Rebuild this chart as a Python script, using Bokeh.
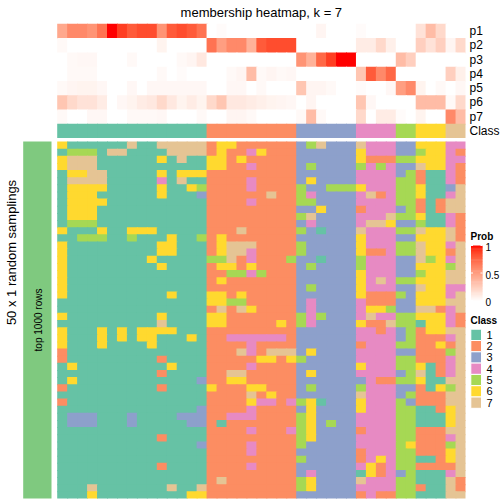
import math
from bokeh.plotting import figure
from bokeh.models import Range1d, ColumnDataSource
from bokeh.embed import file_html
from bokeh.resources import INLINE
from bokeh.core.properties import value

# ---------------- data ----------------
title = "membership heatmap, k = 7"
row_title = "50 x 1 random samplings"
slice_title = "top 1000 rows"
prob_rows = ["p1", "p2", "p3", "p4", "p5", "p6", "p7"]
class_ids = ["1", "2", "3", "4", "5", "6", "7"]
class_colors = ["#66C2A5", "#FC8D62", "#8DA0CB", "#E78AC3", "#A6D854", "#FFD92F", "#E5C494"]

column_class = [1]*15 + [2]*9 + [3]*6 + [4]*4 + [5]*2 + [6]*3 + [7]*2

p1 = [0.45, 0.6, 0.6, 0.55, 0.7, 1.0, 0.9, 0.8, 0.85, 0.85, 0.55, 0.8, 0.85, 0.8, 0.7,
      0, 0.02, 0, 0, 0, 0, 0, 0, 0,
      0, 0, 0.05, 0, 0, 0,
      0.02, 0, 0, 0,
      0, 0,
      0.15, 0.35, 0.2,
      0, 0]
p2 = [0.03, 0, 0, 0, 0, 0, 0, 0, 0, 0, 0.06, 0, 0, 0, 0,
      0.7, 0.5, 0.6, 0.6, 0.4, 0.8, 0.85, 0.85, 0.85,
      0, 0, 0, 0, 0, 0,
      0.1, 0.1, 0.2, 0.08,
      0, 0,
      0.25, 0.15, 0.25,
      0.05, 0.2]
p3 = [0, 0.03, 0.04, 0.04, 0, 0, 0, 0.03, 0, 0, 0, 0, 0.03, 0.05, 0.12,
      0, 0, 0, 0, 0, 0, 0, 0, 0,
      0.55, 0.4, 0.75, 0.9, 1.0, 1.0,
      0, 0, 0, 0,
      0.35, 0.25,
      0, 0, 0,
      0, 0]
p4 = [0, 0.03, 0.03, 0.03, 0, 0, 0, 0, 0, 0, 0.03, 0, 0.02, 0, 0,
      0, 0, 0.03, 0.05, 0.35, 0.03, 0.05, 0.03, 0.04,
      0, 0, 0, 0, 0, 0,
      0.3, 0.8, 0.6, 0.75,
      0, 0,
      0, 0, 0,
      0.25, 0.08]
p5 = [0.03, 0.05, 0.06, 0.06, 0.04, 0, 0, 0.04, 0, 0.04, 0.04, 0.04, 0.04, 0.04, 0.04,
      0, 0, 0.04, 0.04, 0, 0.03, 0, 0, 0,
      0.3, 0.05, 0.05, 0.03, 0, 0,
      0.02, 0, 0, 0.04,
      0.5, 0.6,
      0.06, 0, 0.03,
      0, 0.04]
p6 = [0.3, 0.2, 0.15, 0.15, 0.1, 0, 0.04, 0.06, 0.1, 0.12, 0.2, 0.12, 0.06, 0.1, 0.06,
      0.2, 0.3, 0.12, 0.12, 0.1, 0.08, 0.06, 0.05, 0.04,
      0, 0.05, 0, 0, 0, 0,
      0.3, 0.04, 0, 0,
      0, 0,
      0.35, 0.35, 0.35,
      0.03, 0.2]
p7 = [0.03, 0, 0, 0.04, 0.04, 0, 0, 0.03, 0.03, 0.03, 0.04, 0, 0, 0, 0.03,
      0, 0, 0.05, 0.05, 0.03, 0, 0, 0, 0,
      0.03, 0.35, 0.03, 0, 0, 0,
      0.2, 0, 0.1, 0.1,
      0.02, 0,
      0.06, 0, 0,
      0.6, 0.35]
membership = [p1, p2, p3, p4, p5, p6, p7]

# predicted class per sampling (rows) and column, one digit per cell
samplings = [
    "611111171177777" "2662222223573" "3374443366644",
    "155517711117777" "2622462223333" "3364443356642",
    "677711111161711" "6626222223333" "3362225566644",
    "677711111111111" "6622422223533" "3354543376642",
    "166771111161666" "2222222223333" "3344443521142",
    "177771111141711" "2222422223633" "3344445521142",
    "166661111161165" "2222422225335" "5564445561137",
    "166611111161113" "2222227225433" "3347245561147",
    "166661111111111" "2222422225533" "3344445521277",
    "166611111111111" "2222222223363" "3324443521277",
    "166611111111111" "2222222225733" "3344475561142",
    "155511111111111" "2222222223433" "3347763351142",
    "611161166611111" "2227222225313" "3374445576672",
    "115551151116115" "2622222223333" "3364443366672",
    "611111111166111" "2677722225333" "3364445576647",
    "611111111166111" "2677422225333" "3362245576627",
    "611111111611111" "5572422253313" "3354443375647",
    "611111111161111" "2662622223533" "3354443366657",
    "611111111111111" "2255452223333" "3364443356677",
    "611111111111111" "2622222223333" "3364745566677",
    "611111111111111" "2222222223533" "3364443376644",
    "611111111116111" "6626222223333" "3362225366647",
    "111111111111111" "6655222223433" "3342223366677",
    "111111111111111" "2727622223433" "3346653377247",
    "611111111161111" "6622222225453" "3347445566642",
    "111111111171111" "6622222625433" "3362275516642",
    "611161616666111" "2222222223333" "3344243526677",
    "611161616611161" "2244444423333" "3344443522247",
    "611161111611111" "2222422223333" "3324445522627",
    "211111111111111" "2227427773633" "3344443322257",
    "211111111121111" "2222266265333" "3344445522247",
    "161111111116111" "2222422223333" "3364445561247",
    "111111111121111" "2277222223633" "3344443571247",
    "161111111111113" "2266222223333" "3334225561177",
    "211111111121111" "6222662223533" "3354443321657",
    "111111111111111" "2222726223333" "3374443522277",
    "211111111111111" "2222644245613" "3364445322277",
    "111111111111113" "2222422223633" "3364445511267",
    "133311131111333" "2244422225633" "3344445511167",
    "133311131111133" "2122222225635" "3344445511167",
    "111111111111111" "2222422245633" "3324445522277",
    "111111111121111" "2222222225633" "3344445522247",
    "111111111111113" "2222422225333" "3344445622257",
    "111111111111111" "2222422223333" "3324445522267",
    "111111111111111" "2222222225333" "3324645511267",
    "111111111121111" "2222422223333" "3346245522227",
    "111111111111111" "2222222223433" "3316243511147",
    "111111111111111" "2722222225633" "3374445511172",
    "111711111117117" "2222222225633" "3344445521172",
    "111611111111166" "2222222223333" "3324225511177",
]
prob_ticks = [0, 0.5, 1]
prob_tick_labels = ["0", "0.5", "1"]

# ---------------- colour ramp white -> red in LAB ----------------
def _lin(c):
    return c / 12.92 if c <= 0.04045 else ((c + 0.055) / 1.055) ** 2.4

def _gam(c):
    c = max(0.0, min(1.0, c))
    return 12.92 * c if c <= 0.0031308 else 1.055 * c ** (1 / 2.4) - 0.055

WHITE = (0.95047, 1.0, 1.08883)

def rgb2lab(rgb):
    r, g, b = [_lin(v / 255.0) for v in rgb]
    x = 0.4124 * r + 0.3576 * g + 0.1805 * b
    y = 0.2126 * r + 0.7152 * g + 0.0722 * b
    z = 0.0193 * r + 0.1192 * g + 0.9505 * b
    def f(t):
        return t ** (1 / 3) if t > 0.008856 else 7.787 * t + 16 / 116
    fx, fy, fz = f(x / WHITE[0]), f(y / WHITE[1]), f(z / WHITE[2])
    return (116 * fy - 16, 500 * (fx - fy), 200 * (fy - fz))

def lab2hex(lab):
    L, a, b = lab
    fy = (L + 16) / 116
    fx = fy + a / 500
    fz = fy - b / 200
    def finv(t):
        return t ** 3 if t ** 3 > 0.008856 else (t - 16 / 116) / 7.787
    x, y, z = finv(fx) * WHITE[0], finv(fy) * WHITE[1], finv(fz) * WHITE[2]
    r = 3.2406 * x - 1.5372 * y - 0.4986 * z
    g = -0.9689 * x + 1.8758 * y + 0.0415 * z
    bb = 0.0557 * x - 0.2040 * y + 1.0570 * z
    return "#%02x%02x%02x" % tuple(int(round(_gam(v) * 255)) for v in (r, g, bb))

LAB_W = rgb2lab((255, 255, 255))
LAB_R = rgb2lab((255, 0, 0))

def prob_color(v):
    return lab2hex(tuple(LAB_W[i] + (LAB_R[i] - LAB_W[i]) * v for i in range(3)))

# ---------------- layout (reference pixel space) ----------------
X0, X1 = 56.7, 465.0
NCOL = len(column_class)
CW = (X1 - X0) / NCOL
TOP0, TOPH = 23.3, 14.29
MAIN_T, MAIN_B = 141.0, 498.0
NROW = len(samplings)
RH = (MAIN_B - MAIN_T) / NROW
OV = 1.0  # overlap (covered by the next cell drawn) so that cells leave no seams
FONT = value("Liberation Sans")

p = figure(width=504, height=504, x_range=Range1d(0, 504), y_range=Range1d(504, 0),
           output_backend="svg", toolbar_location=None, min_border=0,
           x_axis_location=None, y_axis_location=None)
p.grid.visible = False
p.outline_line_color = None
p.background_fill_color = "white"
p.border_fill_color = "white"

def add_cell(lst, l, r, t, b, c, last_col, last_row):
    lst[0].append(l); lst[1].append(r if last_col else r + OV)
    lst[2].append(t); lst[3].append(b if last_row else b + OV)
    lst[4].append(c)

cells = ([], [], [], [], [])
for j, row in enumerate(membership):
    for i, v in enumerate(row):
        add_cell(cells, X0 + i * CW, X0 + (i + 1) * CW, TOP0 + j * TOPH, TOP0 + (j + 1) * TOPH,
                 prob_color(v), i == NCOL - 1, False)
for i, k in enumerate(column_class):
    add_cell(cells, X0 + i * CW, X0 + (i + 1) * CW, TOP0 + 7 * TOPH, TOP0 + 8 * TOPH,
             class_colors[k - 1], i == NCOL - 1, True)
for j, row in enumerate(samplings):
    for i, ch in enumerate(row[:NCOL]):
        add_cell(cells, X0 + i * CW, X0 + (i + 1) * CW, MAIN_T + j * RH, MAIN_T + (j + 1) * RH,
                 class_colors[int(ch) - 1], i == NCOL - 1, j == NROW - 1)
src = ColumnDataSource(dict(left=cells[0], right=cells[1], top=cells[2], bottom=cells[3], color=cells[4]))
p.quad(left="left", right="right", top="top", bottom="bottom", source=src,
       fill_color="color", fill_alpha=1.0, line_color=None)

# left slice bar
p.quad(left=[22.7], right=[51.0], top=[MAIN_T], bottom=[MAIN_B], fill_color="#7FC97F", line_color=None)
p.text(x=[37.5], y=[(MAIN_T + MAIN_B) / 2], text=[slice_title], angle=math.pi / 2,
       text_align="center", text_baseline="middle", text_font=FONT, text_font_size="10px", text_color="black")
p.text(x=[11], y=[252], text=[row_title], angle=math.pi / 2,
       text_align="center", text_baseline="middle", text_font=FONT, text_font_size="13px", text_color="black")

# title
p.text(x=[(X0 + X1) / 2], y=[12], text=[title], text_align="center", text_baseline="middle",
       text_font=FONT, text_font_size="13px", text_color="black")

# row names
names = prob_rows + ["Class"]
p.text(x=[469] * 8, y=[TOP0 + (j + 0.5) * TOPH for j in range(8)], text=names,
       text_align="left", text_baseline="middle", text_font=FONT, text_font_size="12px", text_color="black")

# Prob legend
p.text(x=[470], y=[235.5], text=["Prob"], text_align="left", text_baseline="middle",
       text_font=FONT, text_font_size="10px", text_font_style="bold", text_color="black")
BAR_T, BAR_B = 245.0, 300.0
nseg = 60
gl, gr, gt, gb, gc = [], [], [], [], []
for s in range(nseg):
    v0 = s / nseg
    v1 = (s + 1) / nseg
    gl.append(470.5); gr.append(482.0)
    gb.append(BAR_B - v0 * (BAR_B - BAR_T) + (0.6 if s > 0 else 0)); gt.append(BAR_B - v1 * (BAR_B - BAR_T))
    gc.append(prob_color((v0 + v1) / 2))
p.quad(left=gl, right=gr, top=gt, bottom=gb, fill_color=gc, line_color=None)
tick_y = [BAR_B - t * (BAR_B - BAR_T) for t in prob_ticks]
p.segment(x0=[470.5] * 3, x1=[472.5] * 3, y0=tick_y, y1=tick_y, line_color="white", line_width=1)
p.segment(x0=[480.0] * 3, x1=[482.0] * 3, y0=tick_y, y1=tick_y, line_color="white", line_width=1)
p.text(x=[485] * 3, y=[y + 1.5 for y in tick_y], text=prob_tick_labels, text_align="left",
       text_baseline="middle", text_font=FONT, text_font_size="10px", text_color="black")

# Class legend
p.text(x=[470], y=[320], text=["Class"], text_align="left", text_baseline="middle",
       text_font=FONT, text_font_size="10px", text_font_style="bold", text_color="black")
LEG_T, LEG_H = 328.7, 11.3
p.quad(left=[470.3] * 7, right=[481.0] * 7,
       top=[LEG_T + k * LEG_H for k in range(7)], bottom=[LEG_T + (k + 1) * LEG_H for k in range(7)],
       fill_color=class_colors, line_color="white", line_width=1)
p.text(x=[486] * 7, y=[LEG_T + (k + 0.5) * LEG_H for k in range(7)], text=class_ids,
       text_align="left", text_baseline="middle", text_font=FONT, text_font_size="11px", text_color="black")

open("out.html", "w").write(file_html(p, INLINE))
